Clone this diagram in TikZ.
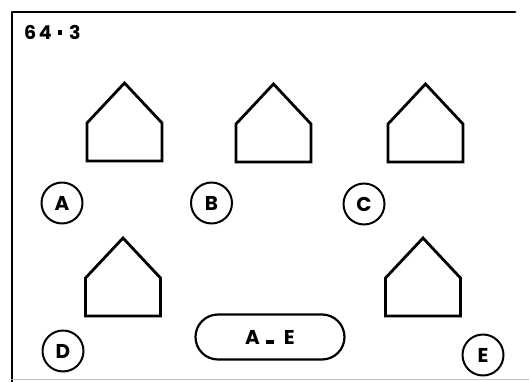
\documentclass[tikz,border=0pt]{standalone}
\usepackage{fontspec}
\setmainfont{Poppins}
\usetikzlibrary{positioning}

\tikzset{
  house/.pic={\draw[line width=2.8pt,line join=miter] (-37.5,0) -- (-37.5,-38) -- (0,-78) -- (37.5,-38) -- (37.5,0) -- cycle;},
  tag/.style={circle,draw,line width=2pt,minimum size=41pt,inner sep=0pt,font=\fontsize{20}{20}\selectfont\bfseries},
}

\begin{document}
\begin{tikzpicture}[x=1pt,y=-1pt,line cap=round,line join=round]
\path[use as bounding box] (0,0) rectangle (529,382);
% frame
\draw[line width=2.8pt] (12,382) -- (12,12) -- (515,12);
\draw[black!25,line width=1.5pt] (12,379.5) -- (529,379.5);
\node[anchor=base west,inner sep=0pt,font=\fontsize{19}{19}\selectfont\bfseries] (title) at (24,39.5) {6\kern2.5pt4\kern6pt\rule[4.5pt]{4.5pt}{4.5pt}\kern7pt3};
% houses
\pic at (124.5,161) {house};
\pic at (273.5,162) {house};
\pic at (425.5,162) {house};
\pic at (123,316) {house};
\pic at (423,316) {house};
% labels
\node[tag] (A) at (62,203) {A};
\node[tag] (B) at (211.5,203) {B};
\node[tag] (C) at (364,204) {C};
\node[tag] (D) at (63,351) {D};
\node[tag] (E) at (483,355) {E};
\node[draw,line width=2.2pt,minimum width=149pt,minimum height=45pt,rounded corners=22.5pt,font=\fontsize{20}{20}\selectfont\bfseries] (range) at (270,337) {A\kern6pt\rule[0.5pt]{8pt}{4pt}\kern10pt E};
\end{tikzpicture}
\end{document}
